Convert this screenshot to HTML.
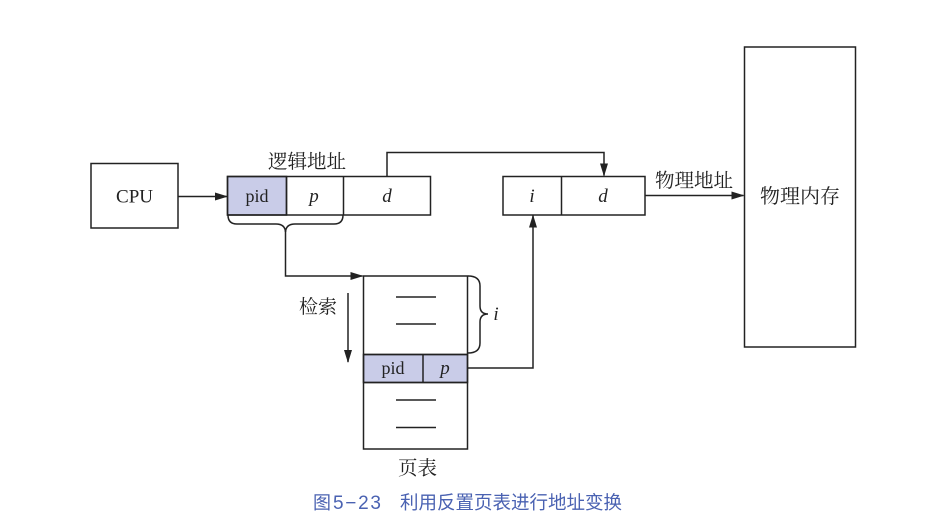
<!DOCTYPE html>
<html><head><meta charset="utf-8"><style>
html,body{margin:0;padding:0;background:#fff;}
svg{display:block;}
.s{font-family:"Liberation Serif","Noto Serif CJK SC",serif;fill:#222;}
.cap{font-family:"Liberation Sans","Noto Sans CJK SC",sans-serif;fill:#4a62b2;}
</style></head><body>
<svg width="952" height="524" viewBox="0 0 952 524" xmlns="http://www.w3.org/2000/svg">
<defs>
<marker id="a" markerWidth="13" markerHeight="8" refX="12" refY="4" orient="auto" markerUnits="userSpaceOnUse">
<path d="M0,0 L13,4 L0,8 Z" fill="#222"/>
</marker>
</defs>
<g stroke="#222" stroke-width="1.5" fill="none">
<!-- CPU -->
<rect x="91" y="163.5" width="87" height="64.5"/>
<!-- logical address -->
<rect x="227.5" y="176.5" width="59" height="38.5" fill="#c9cce8"/>
<rect x="227.5" y="176.5" width="203" height="38.5"/>
<line x1="286.5" y1="176.5" x2="286.5" y2="215"/>
<line x1="343.5" y1="176.5" x2="343.5" y2="215"/>
<!-- CPU arrow -->
<line x1="178" y1="196.5" x2="227" y2="196.5" marker-end="url(#a)"/>
<!-- brace under pid p -->
<path d="M228,215 Q228,224 237,224 L276,224 Q285,224 285.5,232 Q286,224 295,224 L334,224 Q343,224 343,215"/>
<!-- line down to table -->
<polyline points="285.5,230 285.5,276 362.5,276" marker-end="url(#a)"/>
<!-- d to phys addr -->
<polyline points="387,176.5 387,152.5 604,152.5 604,175.5" marker-end="url(#a)"/>
<!-- physical address -->
<rect x="503" y="176.5" width="142" height="38.5"/>
<line x1="561.5" y1="176.5" x2="561.5" y2="215"/>
<!-- to physical memory -->
<line x1="645" y1="195.5" x2="743.5" y2="195.5" marker-end="url(#a)"/>
<rect x="744.5" y="47" width="111" height="300"/>
<!-- page table -->
<rect x="363.5" y="354.5" width="104" height="28" fill="#c9cce8"/>
<rect x="363.5" y="276" width="104" height="173"/>
<line x1="363.5" y1="354.5" x2="467.5" y2="354.5"/>
<line x1="363.5" y1="382.5" x2="467.5" y2="382.5"/>
<line x1="423" y1="354.5" x2="423" y2="382.5"/>
<line x1="396" y1="297" x2="436" y2="297"/>
<line x1="396" y1="324" x2="436" y2="324"/>
<line x1="396" y1="400" x2="436" y2="400"/>
<line x1="396" y1="427.5" x2="436" y2="427.5"/>
<!-- brace i -->
<path d="M468,276 Q480,276 480,286 L480,306 Q480,314 488,314 Q480,314 480,322 L480,343 Q480,353 468,353"/>
<!-- p to i -->
<polyline points="467.5,368 533,368 533,215.5" marker-end="url(#a)"/>
<!-- search arrow -->
<line x1="348" y1="293" x2="348" y2="362" marker-end="url(#a)"/>
</g>
<g class="s">
<text x="134.5" y="202.5" font-size="19" text-anchor="middle">CPU</text>
<text x="257" y="202" font-size="18" text-anchor="middle">pid</text>
<text x="314" y="202" font-size="19" font-style="italic" text-anchor="middle">p</text>
<text x="387" y="202" font-size="19" font-style="italic" text-anchor="middle">d</text>
<text x="307" y="168" font-size="19.5" text-anchor="middle">逻辑地址</text>
<text x="532" y="202" font-size="19" font-style="italic" text-anchor="middle">i</text>
<text x="603" y="202" font-size="19" font-style="italic" text-anchor="middle">d</text>
<text x="694" y="187" font-size="19.5" text-anchor="middle">物理地址</text>
<text x="800" y="203" font-size="20" text-anchor="middle">物理内存</text>
<text x="318" y="313" font-size="19" text-anchor="middle">检索</text>
<text x="393" y="374" font-size="18" text-anchor="middle">pid</text>
<text x="445" y="374" font-size="19" font-style="italic" text-anchor="middle">p</text>
<text x="496" y="320" font-size="19" font-style="italic" text-anchor="middle">i</text>
<text x="417.5" y="474.5" font-size="19.5" text-anchor="middle">页表</text>
</g>
<text class="cap" x="313" y="509" font-size="18">图</text>
<text class="cap" x="333" y="509" font-size="19" textLength="48" lengthAdjust="spacing">5−23</text>
<text class="cap" x="400" y="509" font-size="18.5">利用反置页表进行地址变换</text>
</svg>
</body></html>
